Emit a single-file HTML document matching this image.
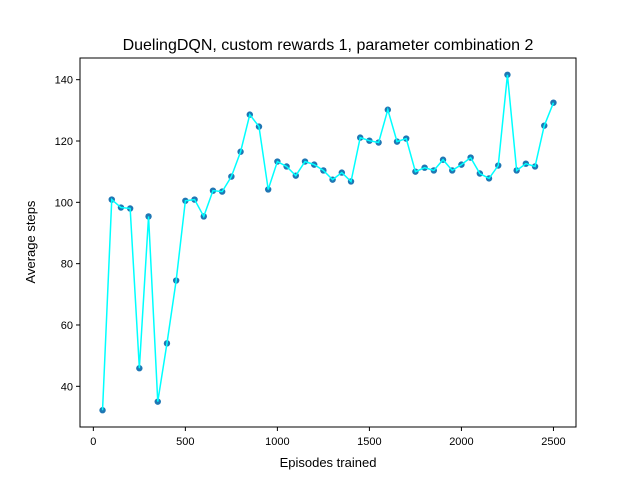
<!DOCTYPE html>
<html><head><meta charset="utf-8"><style>body{margin:0;background:#fff}svg{display:block;font-family:"Liberation Sans","DejaVu Sans",sans-serif}</style></head>
<body>
<svg id="chart" width="640" height="480" viewBox="0 0 640 480">
<rect width="640" height="480" fill="#fff"/>
<text x="328" y="50" text-anchor="middle" font-size="16">DuelingDQN, custom rewards 1, parameter combination 2</text>
<g id="plot"></g>
<rect x="80" y="58" width="496" height="369" fill="none" stroke="#000" stroke-width="1"/>
<text x="328" y="467" text-anchor="middle" font-size="13">Episodes trained</text>
<text transform="translate(35,242) rotate(-90)" text-anchor="middle" font-size="13">Average steps</text>
</svg>
<script>
const episodes=[50,100,150,200,250,300,350,400,450,500,550,600,650,700,750,800,850,900,950,1000,1050,1100,1150,1200,1250,1300,1350,1400,1450,1500,1550,1600,1650,1700,1750,1800,1850,1900,1950,2000,2050,2100,2150,2200,2250,2300,2350,2400,2450,2500];
const steps=[32.2,100.9,98.3,98,45.9,95.4,35,54,74.5,100.5,100.9,95.4,103.8,103.5,108.4,116.5,128.6,124.7,104.2,113.3,111.7,108.7,113.3,112.3,110.4,107.4,109.7,106.8,121.1,120.1,119.5,130.2,119.8,120.8,110,111.3,110.4,113.9,110.4,112.3,114.6,109.4,107.8,112,141.6,110.4,112.6,111.7,125,132.5];
const xTicks=[0,500,1000,1500,2000,2500];
const yTicks=[40,60,80,100,120,140];
const NS="http://www.w3.org/2000/svg";
const L=80,R=576,T=58,B=427;
const xmin=Math.min(...episodes),xmax=Math.max(...episodes),ymin=Math.min(...steps),ymax=Math.max(...steps);
const x0=xmin-(xmax-xmin)*0.05,x1=xmax+(xmax-xmin)*0.05,y0=ymin-(ymax-ymin)*0.05,y1=ymax+(ymax-ymin)*0.05;
const sx=v=>L+(v-x0)/(x1-x0)*(R-L);
const sy=v=>B-(v-y0)/(y1-y0)*(B-T);
const g=document.getElementById('plot');
function mk(t,a){const e=document.createElementNS(NS,t);for(const k in a)e.setAttribute(k,a[k]);g.appendChild(e);return e;}
xTicks.forEach(v=>{const X=sx(v);
const l=mk('line',{x1:X,x2:X,y1:B,y2:B+4,stroke:'#000'});


const t=mk('text',{x:X,y:B+18,'text-anchor':'middle','font-size':'11'});t.textContent=v;

});
yTicks.forEach(v=>{const Y=sy(v);
const l=mk('line',{x1:L-4,x2:L,y1:Y,y2:Y,stroke:'#000'});


const t=mk('text',{x:L-7,y:Y+4,'text-anchor':'end','font-size':'11'});t.textContent=v;

});
episodes.forEach((e,i)=>{const c=mk('circle',{cx:sx(e),cy:sy(steps[i]),r:3.2,fill:'#1f77b4'});

});
const p=mk('polyline',{points:episodes.map((e,i)=>sx(e)+','+sy(steps[i])).join(' '),fill:'none',stroke:'#00ffff','stroke-width':1.5});


</script>
</body></html>
